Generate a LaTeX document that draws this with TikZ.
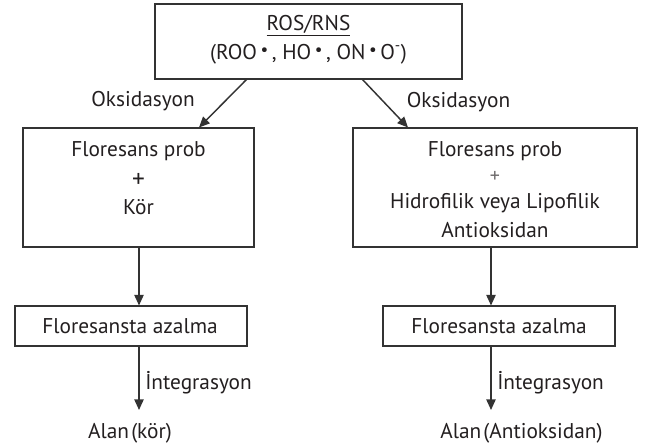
\documentclass[tikz,border=0pt]{standalone}
\usepackage{fontspec}
\setmainfont{PT Sans}
\usetikzlibrary{arrows.meta}
\definecolor{ink}{HTML}{231F20}
\definecolor{linec}{HTML}{333333}
\newcommand{\bul}{\raisebox{0.35ex}{\scalebox{0.8}{•}}}
\begin{document}
\begin{tikzpicture}[x=0.75pt,y=-0.75pt,
  box/.style={draw=linec,line width=1.3pt,inner sep=0pt,fill=white},
  txt/.style={text=ink,font=\fontsize{16}{20}\selectfont,inner sep=0pt,align=center},
  arr/.style={draw=linec,line width=1.1pt,-{Triangle[length=8pt,width=7pt]}}]
\useasboundingbox[fill=white] (0,0) rectangle (652,448);
% boxes
\node[box,minimum width=307*0.75pt,minimum height=75*0.75pt] (top) at (308.5,41.5) {};
\node[box,minimum width=231*0.75pt,minimum height=119*0.75pt] (L) at (138.5,187.5) {};
\node[box,minimum width=284*0.75pt,minimum height=119*0.75pt] (R) at (495,187.5) {};
\node[box,minimum width=232*0.75pt,minimum height=40*0.75pt] (LS) at (131,326) {};
\node[box,minimum width=232*0.75pt,minimum height=40*0.75pt] (RS) at (499,326) {};
% texts
\node[txt] (t1) at (308.5,26) {\underline{ROS/RNS}};
\node[txt] (t2) at (308.5,54) {(ROO\,\bul\,, HO\,\bul\,, ON\,\bul\,O\textsuperscript{-})};
\node[txt] (l1) at (138.5,151) {Floresans prob};
\node[txt,font=\fontsize{19}{20}\selectfont] (l2) at (138.5,180) {+};
\node[txt] (l3) at (138.5,207) {Kör};
\node[txt] (r1) at (495,151.5) {Floresans prob};
\node[txt,text=ink!65,font=\fontsize{15}{16}\selectfont] (r2) at (495,177) {+};
\node[txt] (r3) at (495,203) {Hidrofilik veya Lipofilik};
\node[txt] (r4) at (495,230) {Antioksidan};
\node[txt] (ls) at (130,326) {Floresansta azalma};
\node[txt] (rs) at (499,326) {Floresansta azalma};
\node[txt] (aL) at (130,433) {Alan\hspace{0.1em}(kör)};
\node[txt] (aR) at (521.5,433) {Alan\hspace{0.1em}(Antioksidan)};
% helper coordinates
\coordinate (a1s) at (247,79);  \coordinate (a1e) at (199,127.5);
\coordinate (a2s) at (362,79);  \coordinate (a2e) at (408,127.5);
\coordinate (b1s) at (139,247); \coordinate (b1e) at (139,305.5);
\coordinate (b2s) at (491,247); \coordinate (b2e) at (491,305.5);
\coordinate (c1s) at (139,346); \coordinate (c1e) at (139,410);
\coordinate (c2s) at (491,346); \coordinate (c2e) at (491,410);
% arrows
\draw[arr] (a1s) -- (a1e);
\draw[arr] (a2s) -- (a2e);
\draw[arr] (b1s) -- (b1e);
\draw[arr] (b2s) -- (b2e);
\draw[arr] (c1s) -- (c1e);
\draw[arr] (c2s) -- (c2e);
% labels
\node[txt] (ox1) at (143,101) {Oksidasyon};
\node[txt] (ox2) at (458.5,102) {Oksidasyon};
\node[txt,anchor=west] (in1) at (145,383) {İntegrasyon};
\node[txt,anchor=west] (in2) at (497,383) {İntegrasyon};
\end{tikzpicture}
\end{document}
